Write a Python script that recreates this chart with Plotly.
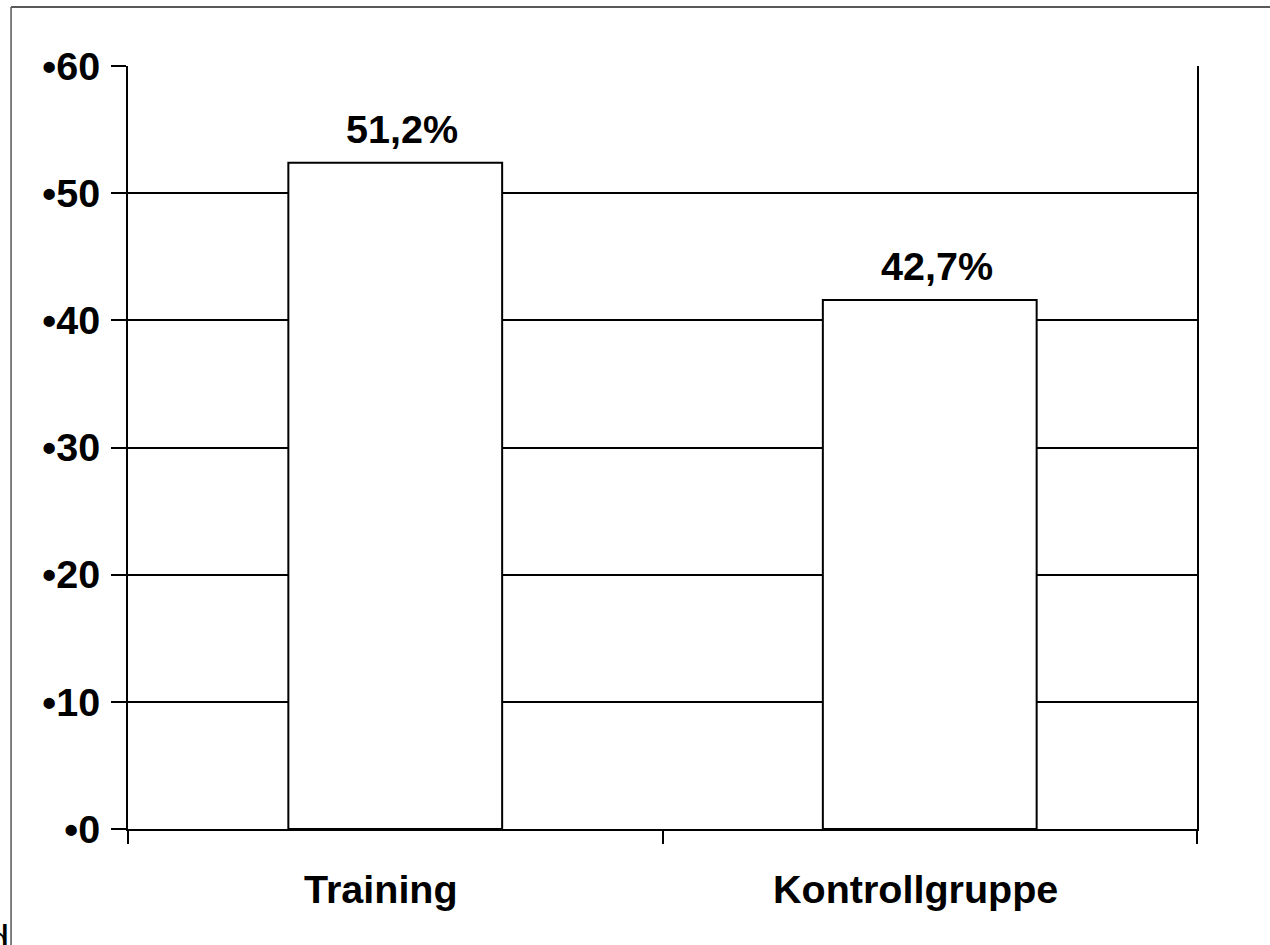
import plotly.graph_objects as go

categories = ["Training", "Kontrollgruppe"]
bar_values = [52.4, 41.6]
bar_labels = ["51,2%", "42,7%"]
y_tickvals = [0, 10, 20, 30, 40, 50, 60]
y_ticktext = ["•0", "•10", "•20", "•30", "•40", "•50", "•60"]

FONT = "Liberation Sans, Arial, sans-serif"
FS = 39.5

fig = go.Figure()
fig.add_trace(go.Bar(
    x=categories,
    y=bar_values,
    width=0.4,
    marker=dict(color="white", line=dict(color="black", width=2)),
    hoverinfo="skip",
))

for cat, val, lab in zip(categories, bar_values, bar_labels):
    fig.add_annotation(
        x=cat, y=val, xref="x", yref="y", text=lab, showarrow=False,
        yanchor="bottom", yshift=10, xshift=7,
        font=dict(family=FONT, size=FS, color="black", weight="bold"),
    )

# category labels (slightly left of the bar centres, as in the original)
for cat in categories:
    fig.add_annotation(
        x=cat, y=0, xref="x", yref="y", text=cat, showarrow=False,
        yanchor="top", yshift=-36, xshift=-14,
        font=dict(family=FONT, size=FS, color="black", weight="bold"),
    )

# outer frame lines and stray character
fig.add_shape(type="line", xref="paper", yref="paper",
              x0=-0.1094, x1=1.07, y0=1.0773, y1=1.0773,
              line=dict(color="#222", width=1.5))
fig.add_shape(type="line", xref="paper", yref="paper",
              x0=-0.1094, x1=-0.1094, y0=1.0773, y1=-0.16,
              line=dict(color="#555", width=1.5))
fig.add_annotation(xref="paper", yref="paper", x=-0.1098, y=-0.114,
                   xanchor="right", yanchor="top", text="d", showarrow=False,
                   font=dict(family=FONT, size=40, color="black"))

fig.update_layout(
    width=1270, height=945,
    margin=dict(l=128, r=73, t=66, b=116),
    plot_bgcolor="white", paper_bgcolor="white",
    showlegend=False,
    bargap=0.6,
)
fig.update_xaxes(
    type="category", range=[-0.5, 1.5],
    tickson="boundaries", ticks="outside", ticklen=13, tickwidth=2, tickcolor="black",
    showline=True, linecolor="black", linewidth=2,
    showgrid=False, zeroline=False,
    showticklabels=False,
)
fig.update_yaxes(
    range=[0, 60], tickvals=y_tickvals, ticktext=y_ticktext,
    ticks="outside", ticklen=15, tickwidth=2, tickcolor="black",
    showline=True, linecolor="black", linewidth=2, mirror=True,
    showgrid=True, gridcolor="black", gridwidth=2, zeroline=False,
    tickfont=dict(family=FONT, size=FS, color="black", weight="bold"),
    ticklabelstandoff=3,
)

fig.write_html("out.html",
               config={"displayModeBar": False},
               post_script="document.body.style.margin='0';document.body.style.overflow='hidden';")
